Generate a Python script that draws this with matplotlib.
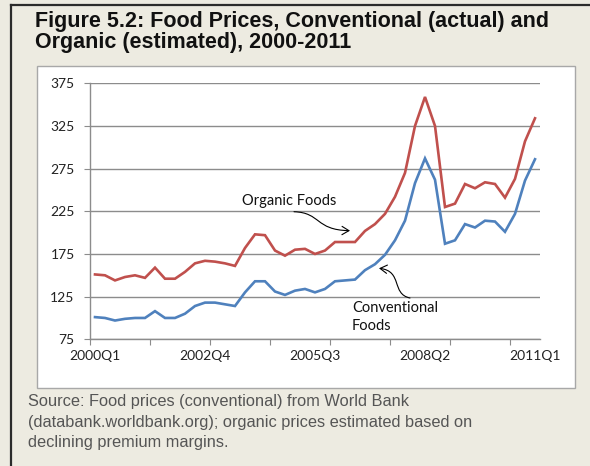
import matplotlib
matplotlib.use('Agg')
import matplotlib.pyplot as plt
from matplotlib.patches import Rectangle, FancyArrowPatch
from matplotlib.lines import Line2D
from matplotlib.path import Path

# ============ DATA ============
quarters = [f'{y}Q{q}' for y in range(2000, 2012) for q in range(1, 5)][:45]
label_quarters = ['2000Q1', '2002Q4', '2005Q3', '2008Q2', '2011Q1']

conventional = [101, 100, 97, 99, 100, 100, 108, 100, 100, 105,
                114, 118, 118, 116, 114, 130, 143, 143, 131, 127,
                132, 134, 130, 134, 143, 144, 145, 156, 163, 174,
                191, 214, 258, 287, 262, 187, 191, 210, 206, 214,
                213, 201, 222, 261, 286]
organic = [151, 150, 144, 148, 150, 147, 159, 146, 146, 154,
           164, 167, 166, 164, 161, 182, 198, 197, 179, 173,
           180, 181, 175, 179, 189, 189, 189, 202, 210, 222,
           242, 270, 325, 359, 325, 230, 234, 257, 252, 259,
           257, 241, 263, 307, 334]

BG = '#EDEBE1'
RED = '#C0504D'
BLUE = '#4F81BD'
W, H = 590, 466

fig = plt.figure(figsize=(W/100, H/100), dpi=100)
fig.patch.set_facecolor(BG)

# outer frame (left + top) and white chart box
fig.add_artist(Line2D([11/W, 11/W], [0, 1 - 5/H], color='#2b2b2b', lw=1.6))
fig.add_artist(Line2D([11/W, 1], [1 - 5/H, 1 - 5/H], color='#2b2b2b', lw=1.6))
fig.add_artist(Rectangle((37/W, 1 - 388/H), (575-37)/W, (388-66)/H,
                         facecolor='white', edgecolor='#a8a8a8', lw=1, zorder=0))

fig.text(35/W, 1 - 32/H, 'Figure 5.2: Food Prices, Conventional (actual) and\nOrganic (estimated), 2000-2011',
         fontsize=15.5, fontweight='bold', family='Liberation Sans', color='#111111',
         va='center', ha='left', linespacing=1.05)
fig.text(28/W, 1 - 422/H, 'Source: Food prices (conventional) from World Bank\n(databank.worldbank.org); organic prices estimated based on\ndeclining premium margins.',
         fontsize=11.8, family='Liberation Sans', color='#555555',
         va='center', ha='left', linespacing=1.45)

# ============ PLOT ============
ax = fig.add_axes([90/W, 1 - 339.3/H, (540-90)/W, (339.3-83.3)/H])
ax.set_facecolor('white')
x = list(range(len(quarters)))
ax.plot(x, organic, color=RED, lw=1.9, solid_joinstyle='miter', zorder=3)
ax.plot(x, conventional, color=BLUE, lw=1.9, solid_joinstyle='miter', zorder=3)

ax.set_xlim(-0.5, 44.5)
ax.set_ylim(75, 375)
ax.set_yticks(range(75, 376, 50))
ax.yaxis.grid(True, color='#8c8c8c', lw=1)
ax.set_axisbelow(True)

# major ticks: marks between categories every 6 quarters; labels every 11
ax.set_xticks([-0.5 + 6*k for k in range(8)])
ax.set_xticklabels([])
ax.set_xticks([quarters.index(q) for q in label_quarters], minor=True)
ax.set_xticklabels(label_quarters, minor=True)
ax.tick_params(axis='x', which='major', length=4, color='#8c8c8c', direction='out')
ax.tick_params(axis='x', which='minor', length=0, pad=8)
ax.tick_params(axis='y', length=4, color='#8c8c8c', pad=7)
for lab in ax.get_xticklabels(minor=True) + ax.get_yticklabels():
    lab.set_fontfamily('Lato')
    lab.set_fontsize(10)
    lab.set_color('#222222')

for s in ['top', 'right']:
    ax.spines[s].set_visible(False)
for s in ['left', 'bottom']:
    ax.spines[s].set_color('#8c8c8c')
    ax.spines[s].set_linewidth(1)

# annotations: labels with curved hand-drawn style arrows
ax.text(19.4, 237, 'Organic Foods', fontsize=10.5, family='Lato', color='#111111',
        ha='center', va='center')
org_path = Path([(19.9, 224.5), (22.6, 223.5), (22.0, 203.0), (25.5, 202.3)],
                [Path.MOVETO, Path.CURVE4, Path.CURVE4, Path.CURVE4])
ax.add_patch(FancyArrowPatch(path=org_path, arrowstyle='->,head_length=5,head_width=3',
                             color='black', lw=0.8, zorder=4))

ax.text(25.7, 101, 'Conventional\nFoods', fontsize=10.5, family='Lato', color='#111111',
        ha='left', va='center', linespacing=1.35)
conv_path = Path([(31.5, 123.4), (29.6, 128.0), (30.8, 155.0), (28.4, 158.2)],
                 [Path.MOVETO, Path.CURVE4, Path.CURVE4, Path.CURVE4])
ax.add_patch(FancyArrowPatch(path=conv_path, arrowstyle='->,head_length=5,head_width=3',
                             color='black', lw=0.8, zorder=4))

fig.savefig('out.png', dpi=100, facecolor=BG)
